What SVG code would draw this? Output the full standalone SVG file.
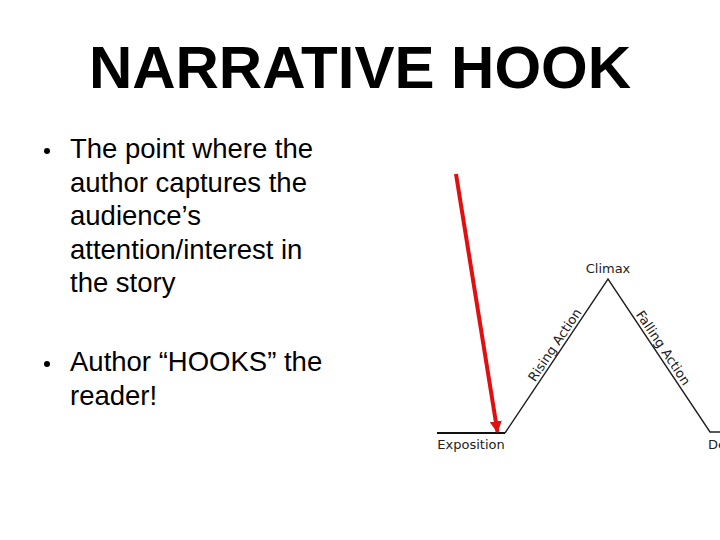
<svg xmlns="http://www.w3.org/2000/svg" width="720" height="540" viewBox="0 0 720 540">
<defs>
<style>
.title{font-family:"Liberation Sans",Arial,sans-serif;font-weight:bold;font-size:60px;fill:#000}
.body{font-family:"Liberation Sans",Arial,sans-serif;font-size:27.5px;fill:#000}
.lbl{font-family:"DejaVu Sans",sans-serif;font-size:13px;fill:#222}
.plot{stroke:#222;stroke-width:1.4;fill:none}
</style>
<marker id="redhead" viewBox="0 0 10 10" refX="9" refY="5" markerWidth="3" markerHeight="3" orient="auto" markerUnits="strokeWidth">
<path d="M0,0 L10,5 L0,10 Z" fill="#e01010"/>
</marker>
</defs>
<rect width="720" height="540" fill="#fff"/>
<g id="title"><text class="title" x="360" y="88" text-anchor="middle">NARRATIVE HOOK</text></g>
<g id="bullets">
<circle cx="47" cy="151" r="3" fill="#000"/>
<text class="body" x="70" y="158">The point where the</text>
<text class="body" x="70" y="191.5">author captures the</text>
<text class="body" x="70" y="225">audience’s</text>
<text class="body" x="70" y="258.5">attention/interest in</text>
<text class="body" x="70" y="292">the story</text>
<circle cx="47" cy="364" r="3" fill="#000"/>
<text class="body" x="70" y="371">Author “HOOKS” the</text>
<text class="body" x="70" y="404.5">reader!</text>
</g>
<g id="plot">
<line x1="437" y1="433" x2="505" y2="433" stroke="#111" stroke-width="2.2"/>
<polyline class="plot" points="505,433 608,279 710,432 720,432"/>
<text class="lbl" x="471" y="449" text-anchor="middle">Exposition</text>
<text class="lbl" x="608" y="273" text-anchor="middle">Climax</text>
<text class="lbl" x="708" y="449">De</text>
<text class="lbl" transform="translate(561,349) rotate(-56.2)" x="0" y="-3" text-anchor="middle">Rising Action</text>
<text class="lbl" transform="translate(657,352) rotate(56.3)" x="0" y="-3" text-anchor="middle">Falling Action</text>
</g>
<g id="connectors">
<line x1="456" y1="174" x2="497.5" y2="432" stroke="#e01010" stroke-width="4" marker-end="url(#redhead)"/>
</g>
</svg>
